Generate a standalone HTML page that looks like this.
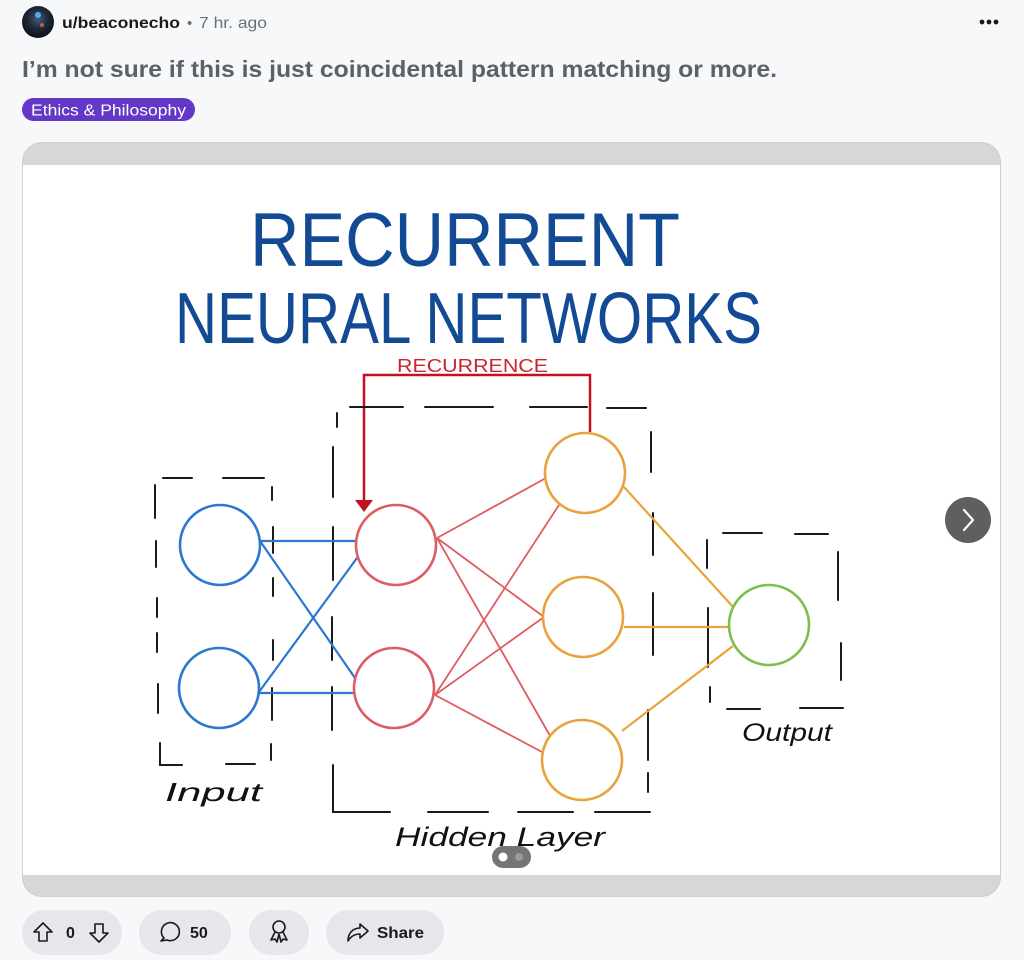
<!DOCTYPE html>
<html><head><meta charset="utf-8"><style>
html,body{margin:0;padding:0;background:#f7f8fa;}
svg{display:block;}
</style></head><body>
<svg width="1024" height="960" viewBox="0 0 1024 960" xmlns="http://www.w3.org/2000/svg" font-family="Liberation Sans, sans-serif">
<rect width="1024" height="960" fill="#f7f8fa"/>
<!-- header -->
<defs>
<radialGradient id="av" cx="0.5" cy="0.4" r="0.6"><stop offset="0" stop-color="#3a5f8a"/><stop offset="0.5" stop-color="#1f2a38"/><stop offset="1" stop-color="#0d1014"/></radialGradient>
<clipPath id="card"><rect x="22" y="142" width="979" height="755" rx="20"/></clipPath>
</defs>
<circle cx="38" cy="22" r="16" fill="url(#av)"/>
<circle cx="38" cy="15" r="3" fill="#5fa8e8"/>
<circle cx="42" cy="25" r="2" fill="#c0603a"/>
<text x="62" y="28" font-size="16" font-weight="bold" fill="#1a1a1b" textLength="118" lengthAdjust="spacingAndGlyphs">u/beaconecho</text>
<text x="187" y="28" font-size="15" fill="#6a7075">•</text>
<text x="199" y="28" font-size="16" fill="#6a7075" textLength="68" lengthAdjust="spacingAndGlyphs">7 hr. ago</text>
<circle cx="982" cy="22" r="2.4" fill="#1a1a1b"/><circle cx="989" cy="22" r="2.4" fill="#1a1a1b"/><circle cx="996" cy="22" r="2.4" fill="#1a1a1b"/>
<text x="22" y="77" font-size="23" font-weight="bold" fill="#5b6166" textLength="755" lengthAdjust="spacingAndGlyphs">I’m not sure if this is just coincidental pattern matching or more.</text>
<rect x="22" y="98" width="173" height="23" rx="11.5" fill="#6338c6"/>
<text x="31" y="115.5" font-size="16" fill="#ffffff" textLength="155" lengthAdjust="spacingAndGlyphs">Ethics &amp; Philosophy</text>

<!-- card -->
<g clip-path="url(#card)">
<rect x="22" y="142" width="979" height="755" fill="#d7d7d7"/>
<rect x="22" y="165" width="979" height="710" fill="#ffffff"/>
</g>
<rect x="22.5" y="142.5" width="978" height="754" rx="20" fill="none" stroke="#d0d0d0" stroke-width="1"/>

<!-- title -->
<text x="250" y="266" font-size="76" fill="#134a94" textLength="430" lengthAdjust="spacingAndGlyphs">RECURRENT</text>
<text x="175" y="343" font-size="72" fill="#134a94" textLength="587" lengthAdjust="spacingAndGlyphs">NEURAL NETWORKS</text>

<!-- recurrence -->
<text x="397" y="372" font-size="18" fill="#c8262f" textLength="151" lengthAdjust="spacingAndGlyphs">RECURRENCE</text>
<polyline points="590,432 590,375 364,375 364,500" fill="none" stroke="#c1121f" stroke-width="2.5"/>
<polygon points="355,500 373,500 364,512" fill="#c1121f"/>

<!-- dashed boxes -->
<g stroke="#1a1a1a" stroke-width="2" fill="none" stroke-linecap="round">
<!-- input box -->
<line x1="163" y1="478" x2="192" y2="478"/><line x1="223" y1="478" x2="264" y2="478"/>
<line x1="155" y1="485" x2="155" y2="518"/><line x1="156" y1="541" x2="156" y2="567"/><line x1="157" y1="598" x2="157" y2="617"/><line x1="157" y1="633" x2="157" y2="652"/><line x1="158" y1="684" x2="158" y2="713"/>
<polyline points="160,743 160,765 182,765"/><line x1="226" y1="764" x2="255" y2="764"/>
<line x1="272" y1="487" x2="272" y2="500"/><line x1="273" y1="527" x2="273" y2="553"/><line x1="273" y1="578" x2="273" y2="596"/><line x1="273" y1="640" x2="273" y2="660"/><line x1="272" y1="688" x2="272" y2="720"/><line x1="271" y1="744" x2="271" y2="760"/>
<!-- hidden box -->
<line x1="350" y1="407" x2="403" y2="407"/><line x1="425" y1="407" x2="493" y2="407"/><line x1="530" y1="407" x2="587" y2="407"/><line x1="607" y1="408" x2="646" y2="408"/>
<line x1="337" y1="413" x2="337" y2="427"/><line x1="333" y1="447" x2="333" y2="497"/><line x1="333" y1="527" x2="333" y2="580"/><line x1="332" y1="617" x2="332" y2="660"/><line x1="332" y1="687" x2="332" y2="730"/>
<polyline points="333,765 333,812 390,812"/><line x1="428" y1="812" x2="488" y2="812"/><line x1="518" y1="812" x2="573" y2="812"/><line x1="595" y1="812" x2="650" y2="812"/>
<line x1="651" y1="432" x2="651" y2="472"/><line x1="653" y1="513" x2="653" y2="555"/><line x1="653" y1="593" x2="653" y2="655"/><line x1="648" y1="710" x2="648" y2="760"/><line x1="648" y1="773" x2="648" y2="792"/>
<!-- output box -->
<line x1="723" y1="533" x2="762" y2="533"/><line x1="795" y1="534" x2="828" y2="534"/>
<line x1="707" y1="540" x2="707" y2="568"/><line x1="708" y1="608" x2="708" y2="667"/><line x1="710" y1="687" x2="710" y2="702"/>
<line x1="838" y1="552" x2="838" y2="600"/><line x1="841" y1="643" x2="841" y2="680"/>
<line x1="727" y1="709" x2="760" y2="709"/><line x1="800" y1="708" x2="843" y2="708"/>
</g>

<!-- connections -->
<g stroke="#2a78cf" stroke-width="2.2" fill="none">
<line x1="260" y1="541" x2="357" y2="541"/>
<line x1="260" y1="541" x2="355" y2="678"/>
<line x1="259" y1="692" x2="357" y2="558"/>
<line x1="259" y1="693" x2="355" y2="693"/>
</g>
<g stroke="#de5c63" stroke-width="1.8" fill="none">
<line x1="437" y1="538" x2="546" y2="478"/>
<line x1="437" y1="538" x2="544" y2="617"/>
<line x1="437" y1="538" x2="553" y2="741"/>
<line x1="435" y1="695" x2="559" y2="505"/>
<line x1="435" y1="695" x2="544" y2="617"/>
<line x1="435" y1="695" x2="542" y2="752"/>
</g>
<g stroke="#e8a33a" stroke-width="2.2" fill="none">
<line x1="624" y1="487" x2="734" y2="608"/>
<line x1="624" y1="627" x2="729" y2="627"/>
<line x1="622" y1="731" x2="733" y2="646"/>
</g>

<!-- nodes -->
<g fill="#ffffff" stroke-width="2.6">
<circle cx="220" cy="545" r="40" stroke="#2a78cf"/>
<circle cx="219" cy="688" r="40" stroke="#2a78cf"/>
<circle cx="396" cy="545" r="40" stroke="#de5c63"/>
<circle cx="394" cy="688" r="40" stroke="#de5c63"/>
<circle cx="585" cy="473" r="40" stroke="#e8a33a"/>
<circle cx="583" cy="617" r="40" stroke="#e8a33a"/>
<circle cx="582" cy="760" r="40" stroke="#e8a33a"/>
<circle cx="769" cy="625" r="40" stroke="#7cbf4a"/>
</g>

<!-- labels -->
<text x="165" y="801" font-size="26" font-style="italic" fill="#111" textLength="97" lengthAdjust="spacingAndGlyphs">Input</text>
<text x="742" y="741" font-size="25" font-style="italic" fill="#111" textLength="90" lengthAdjust="spacingAndGlyphs">Output</text>
<text x="395" y="846" font-size="27" font-style="italic" fill="#111" textLength="210" lengthAdjust="spacingAndGlyphs">Hidden Layer</text>

<!-- pagination -->
<rect x="492" y="846" width="39" height="22" rx="11" fill="#666666" fill-opacity="0.9"/>
<circle cx="503" cy="857" r="4.5" fill="#ffffff"/>
<circle cx="519" cy="857" r="4" fill="#9a9a9a"/>

<!-- next button -->
<circle cx="968" cy="520" r="23" fill="#5f5f5f"/>
<polyline points="964,510 973,520 964,530" fill="none" stroke="#ffffff" stroke-width="2.2" stroke-linecap="round" stroke-linejoin="round"/>

<!-- action bar -->
<g fill="#e5e7ea">
<rect x="22" y="910" width="100" height="45" rx="22.5"/>
<rect x="139" y="910" width="92" height="45" rx="22.5"/>
<rect x="249" y="910" width="60" height="45" rx="22.5"/>
<rect x="326" y="910" width="118" height="45" rx="22.5"/>
</g>
<g fill="none" stroke="#1a1a1b" stroke-width="1.6" stroke-linejoin="round">
<path d="M43 923 L52 932 L47 932 L47 941 L39 941 L39 932 L34 932 Z"/>
<path d="M99 942 L108 933 L103 933 L103 924 L95 924 L95 933 L90 933 Z"/>
<path d="M164 938 A9 9 0 1 1 167 940 L161 941 Z"/>
<circle cx="279" cy="927" r="6"/>
<path d="M275 932 L271 940 L275 939 L277 942 L279 934 M283 932 L287 940 L283 939 L281 942 L279 934"/>
<path d="M348 941 C348 933 353 928 360 928 L360 924 L368 931 L360 938 L360 934 C355 934 351 936 348 941 Z"/>
</g>
<g font-size="16" font-weight="bold" fill="#1a1a1b">
<text x="66" y="938">0</text>
<text x="190" y="938">50</text>
<text x="377" y="938" textLength="47" lengthAdjust="spacingAndGlyphs">Share</text>
</g>
</svg>
</body></html>
